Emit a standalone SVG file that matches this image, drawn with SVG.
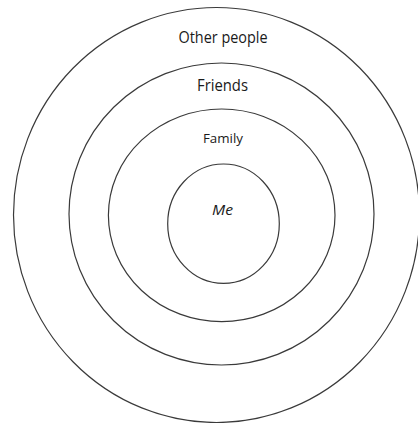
<svg xmlns="http://www.w3.org/2000/svg" width="418" height="423" viewBox="0 0 418 423">
<style>
.ring{fill:none;stroke:#3a3a3a;stroke-width:1.2}
.lbl{font-family:"Open Sans","Liberation Sans",sans-serif;fill:#1a1a1a;text-anchor:middle}
</style>
<rect width="418" height="423" fill="#fff"/>
<g id="other">
<ellipse class="ring" cx="216.5" cy="215" rx="203" ry="207.5"/>
<text class="lbl" x="223" y="43" font-size="16" textLength="89" lengthAdjust="spacingAndGlyphs">Other people</text>
</g>
<g id="friends">
<ellipse class="ring" cx="221.5" cy="214" rx="152.5" ry="151"/>
<text class="lbl" x="222.5" y="90.5" font-size="16" textLength="51" lengthAdjust="spacingAndGlyphs">Friends</text>
</g>
<g id="family">
<ellipse class="ring" cx="221.7" cy="215.3" rx="113.3" ry="106.3"/>
<text class="lbl" x="223" y="142.5" font-size="13.5" textLength="40" lengthAdjust="spacingAndGlyphs">Family</text>
</g>
<g id="me">
<ellipse class="ring" cx="223.5" cy="223.7" rx="55.8" ry="59.7"/>
<text class="lbl" x="222.5" y="215" font-size="14" font-style="italic" textLength="21" lengthAdjust="spacingAndGlyphs">Me</text>
</g>
<g id="connectors"/>
</svg>
